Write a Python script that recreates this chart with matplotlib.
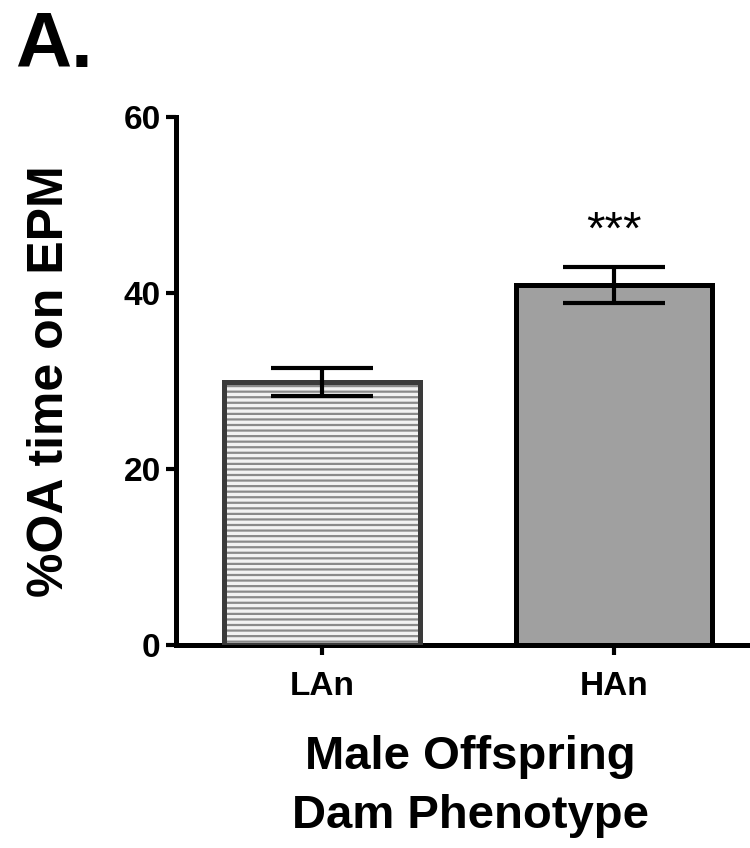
import matplotlib
matplotlib.use('Agg')
import matplotlib.pyplot as plt

plt.rcParams['font.family'] = ['Liberation Sans', 'DejaVu Sans']
plt.rcParams['font.weight'] = 'bold'
plt.rcParams['hatch.linewidth'] = 1.6

# data
groups = ['LAn', 'HAn']
means = [29.9, 40.9]
sems = [1.6, 2.0]
stars = ['', '***']
y_ticks = [0, 20, 40, 60]

fig = plt.figure(figsize=(7.5, 8.48), dpi=100)
ax = fig.add_axes([0.2347, 0.2394, 0.7627, 0.6226])

x = list(range(len(groups)))

# LAn: hatched bar, hatch in mid gray, outline darker
ax.bar(x[0], means[0], width=0.67, color='#f2f2f2', edgecolor='#8a8a8a',
       hatch='---', linewidth=0, zorder=2)
ax.bar(x[0], means[0], width=0.67, fill=False, edgecolor='#3a3a3a',
       linewidth=3.6, zorder=3)
# HAn: solid gray bar
ax.bar(x[1], means[1], width=0.67, color='#a0a0a0', edgecolor='black',
       linewidth=3.6, zorder=3)

ax.errorbar(x, means, yerr=sems, fmt='none', ecolor='black', elinewidth=3,
            capsize=37, capthick=3, zorder=4)

for xi, m, s, st in zip(x, means, sems, stars):
    if st:
        ax.text(xi, 47.0, st, ha='center', va='center', fontsize=34,
                fontweight='normal')

ax.set_xlim(-0.5, 1.459)
ax.set_ylim(0, 60)
ax.set_yticks(y_ticks)
ax.set_xticks(x)
ax.set_xticklabels(groups)

for side in ['top', 'right']:
    ax.spines[side].set_visible(False)
for side in ['left', 'bottom']:
    ax.spines[side].set_linewidth(3.6)

ax.tick_params(axis='both', length=7, width=3, labelsize=24, pad=4)
ax.tick_params(axis='x', pad=12)

ax.set_ylabel('%OA time on EPM', fontsize=36, fontweight='bold')
ax.yaxis.set_label_coords(-0.18, 0.5)
ax.set_xlabel('Male Offspring\nDam Phenotype', fontsize=34,
              fontweight='bold', linespacing=1.45)
ax.xaxis.set_label_coords(0.515, -0.17)
ax.xaxis.label.set_va('top')

fig.text(0.02, 0.988, 'A.', fontsize=56, fontweight='bold', va='top', ha='left')

fig.savefig('out.png', dpi=100)
